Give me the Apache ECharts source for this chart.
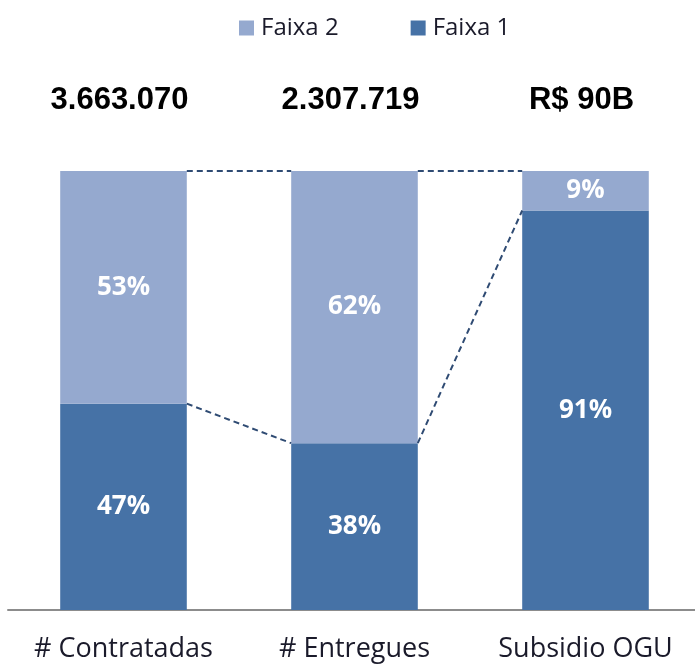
<!DOCTYPE html>
<html><head><meta charset="utf-8">
<script src="https://cdn.jsdelivr.net/npm/echarts@6/dist/echarts.min.js"></script>
<style>html,body{margin:0;padding:0;background:#fff}#c{width:695px;height:670px}</style>
</head><body><div id="c"></div>
<script>
var categories = ['# Contratadas', '# Entregues', 'Subsidio OGU'];
var faixa1 = [47, 38, 91];
var faixa2 = [53, 62, 9];
var totals = ['3.663.070', '2.307.719', 'R$ 90B'];

var BAR_RATIO = 0.548;
var dark = '#4672A6', light = '#95A9CF';

// connectors between adjacent bars: [fromIndex, fromValue, toValue]
var connectors = [];
for (var i = 0; i < categories.length - 1; i++) {
  connectors.push([i, faixa1[i] + faixa2[i], faixa1[i + 1] + faixa2[i + 1]]);
  connectors.push([i, faixa1[i], faixa1[i + 1]]);
}

var chart = echarts.init(document.getElementById('c'));
chart.setOption({
  animation: false,
  legend: {
    top: 16, left: 239, padding: 0, itemGap: 72, itemWidth: 15, itemHeight: 15,
    icon: 'rect',
    textStyle: { fontFamily: 'Open Sans', fontSize: 24, color: '#1a1a2a', padding: [0, 0, 0, 2] },
    data: ['Faixa 2', 'Faixa 1']
  },
  grid: { left: 8, top: 171, width: 693, bottom: 60, outerBoundsMode: 'none', containLabel: false },
  xAxis: {
    type: 'category', data: categories,
    axisLine: { lineStyle: { color: '#8c8c8c', width: 2 } },
    axisTick: { show: false },
    axisLabel: { interval: 0, hideOverlap: false, margin: 26, fontFamily: 'Open Sans', fontSize: 27, color: '#1a1a2a' }
  },
  yAxis: { type: 'value', min: 0, max: 100, show: false, splitLine: { show: false } },
  series: [
    {
      name: 'Faixa 1', type: 'bar', stack: 's', data: faixa1, barWidth: (BAR_RATIO * 100) + '%',
      itemStyle: { color: dark },
      label: { show: true, position: 'inside', formatter: '{c}%', color: '#fff',
        fontFamily: 'Open Sans', fontWeight: 'bold', fontSize: 26 }
    },
    {
      name: 'Faixa 2', type: 'bar', stack: 's', data: faixa2,
      itemStyle: { color: light },
      label: { show: true, position: 'inside', formatter: '{c}%', color: '#fff',
        fontFamily: 'Open Sans', fontWeight: 'bold', fontSize: 26 }
    },
    {
      name: 'totals', type: 'bar', stack: 's', data: [0, 0, 0], barWidth: (BAR_RATIO * 100) + '%',
      itemStyle: { color: 'transparent' }, silent: true,
      label: { show: true, position: 'top', distance: 55, offset: [-4, 0],
        formatter: function (p) { return totals[p.dataIndex]; },
        color: '#000', fontFamily: 'Liberation Sans', fontWeight: 'bold', fontSize: 31 }
    },
    {
      type: 'custom', data: connectors, z: 5, silent: true,
      encode: { x: 0, y: 1 },
      renderItem: function (params, api) {
        var i = api.value(0);
        var p1 = api.coord([i, api.value(1)]);
        var p2 = api.coord([i + 1, api.value(2)]);
        var half = api.size([1, 0])[0] * BAR_RATIO / 2;
        return {
          type: 'line',
          shape: { x1: p1[0] + half, y1: p1[1], x2: p2[0] - half, y2: p2[1] },
          style: { stroke: '#2F4B73', lineWidth: 2, lineDash: [6, 4] }
        };
      }
    }
  ]
});
</script></body></html>
